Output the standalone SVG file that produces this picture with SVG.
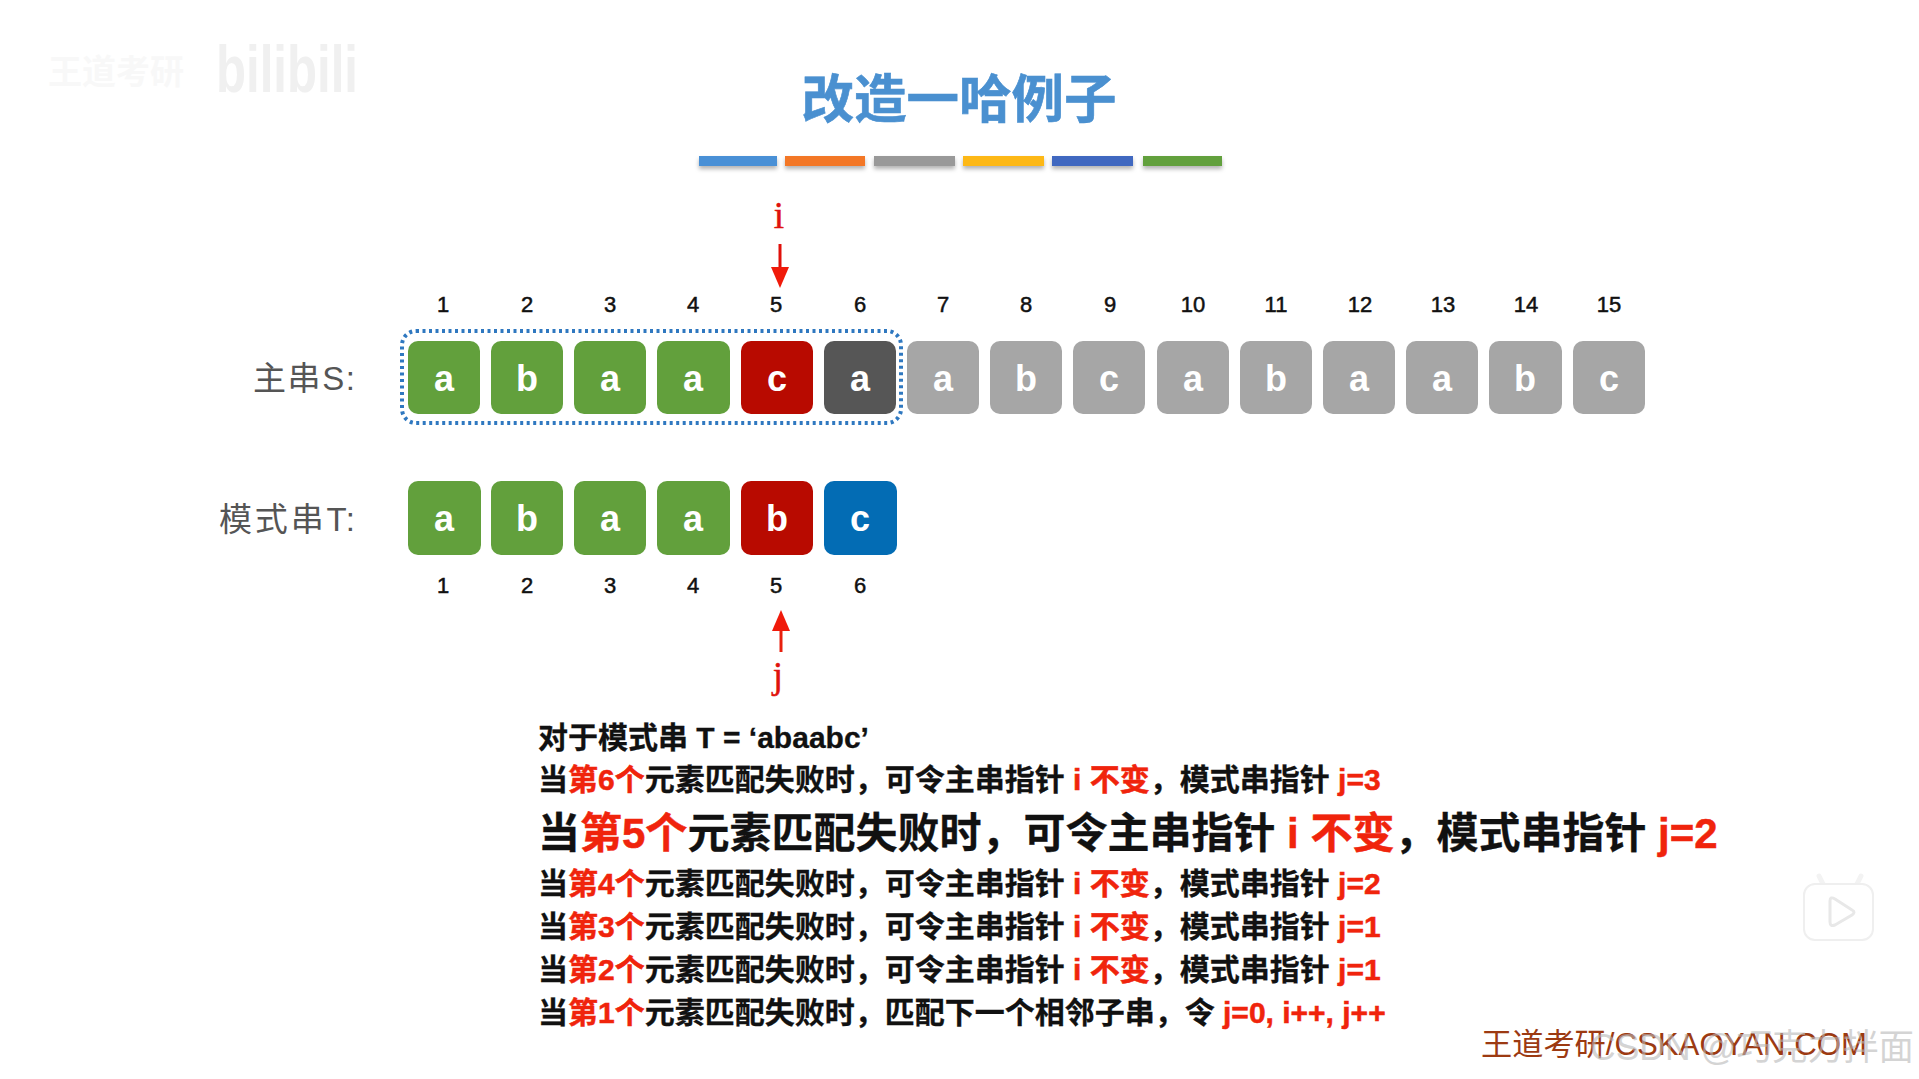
<svg xmlns="http://www.w3.org/2000/svg" width="1919" height="1079" viewBox="0 0 1919 1079">
<defs>
<filter id="sh" x="-5%" y="-50%" width="110%" height="250%"><feDropShadow dx="0" dy="3" stdDeviation="2" flood-color="#000" flood-opacity=".3"/></filter>
<marker id="ah" markerWidth="21" markerHeight="18" refX="0" refY="9" orient="auto" markerUnits="userSpaceOnUse" viewBox="0 0 21 18"><path d="M0 0L21 9L0 18Z" fill="#f01a0a"/></marker>
</defs>
<style>
text{font-family:"Liberation Sans","Noto Sans CJK SC",sans-serif}
.bl{font-size:36px;font-weight:700;fill:#fff;text-anchor:middle}
.n{font-size:22px;fill:#111;stroke:#111;stroke-width:.5;text-anchor:middle}
.lab{font-size:33px;fill:#555}
.v{font-family:"Liberation Serif","DejaVu Serif",serif;font-size:37px;fill:#e0120c;stroke:#e0120c;stroke-width:.5;text-anchor:middle}
.t{font-size:30px;font-weight:700;fill:#111;stroke:#111;stroke-width:.3}
.big{font-size:42px;font-weight:700;fill:#111;stroke:#111;stroke-width:.3}
.r{fill:#f0240c;stroke:#f0240c;stroke-width:.5}
.g{fill:#62a03c}.k{fill:#a6a6a6}.rd{fill:#b80a00}.dk{fill:#565656}.bu{fill:#036cb4}
</style>
<rect width="1919" height="1079" fill="#fff"/>
<g id="watermark-top"><text x="48" y="84" font-size="34" font-weight="700" fill="#f8f8f8">王道考研</text><text x="216" y="92" font-size="66" font-weight="700" fill="#f0f0f0" textLength="142" lengthAdjust="spacingAndGlyphs">bilibili</text></g>
<g id="title"><text x="959" y="118" text-anchor="middle" font-size="52.5" font-weight="700" fill="#4a90d0" stroke="#4a90d0" stroke-width=".6">改造一哈例子</text></g>
<g id="title-bars" filter="url(#sh)">
<rect x="699" y="156" width="78" height="10" fill="#4a90d6"/><rect x="785" y="156" width="80" height="10" fill="#f37726"/><rect x="874" y="156" width="81" height="10" fill="#999"/><rect x="963" y="156" width="81" height="10" fill="#fdb813"/><rect x="1052" y="156" width="81" height="10" fill="#3f68c0"/><rect x="1143" y="156" width="79" height="10" fill="#62a03c"/>
</g>
<g id="connectors">
<line x1="780" y1="244" x2="780" y2="267" stroke="#e0100a" stroke-width="3" marker-end="url(#ah)"/>
<line x1="781" y1="652" x2="781" y2="631" stroke="#e8200e" stroke-width="3" marker-end="url(#ah)"/>
<rect x="402" y="331" width="499" height="92" rx="14" fill="none" stroke="#2f78c0" stroke-width="4" stroke-dasharray="3 3.5"/>
</g>
<g id="label-i"><text class="v" x="779" y="228">i</text></g>
<g id="label-j"><text class="v" x="778" y="688">j</text></g>
<g id="label-S"><text class="lab" x="253" y="390" textLength="102">主串S:</text></g>
<g id="label-T"><text class="lab" x="219" y="531" textLength="136">模式串T:</text></g>
<g id="s-index">
<text class="n" x="443" y="312">1</text><text class="n" x="527" y="312">2</text><text class="n" x="610" y="312">3</text><text class="n" x="693" y="312">4</text><text class="n" x="776" y="312">5</text><text class="n" x="860" y="312">6</text><text class="n" x="943" y="312">7</text><text class="n" x="1026" y="312">8</text><text class="n" x="1110" y="312">9</text><text class="n" x="1193" y="312">10</text><text class="n" x="1276" y="312">11</text><text class="n" x="1360" y="312">12</text><text class="n" x="1443" y="312">13</text><text class="n" x="1526" y="312">14</text><text class="n" x="1609" y="312">15</text>
</g>
<g id="s1"><rect class="g" x="408" y="341" width="72" height="73" rx="10"/><text class="bl" x="444" y="391">a</text></g>
<g id="s2"><rect class="g" x="491" y="341" width="72" height="73" rx="10"/><text class="bl" x="527" y="391">b</text></g>
<g id="s3"><rect class="g" x="574" y="341" width="72" height="73" rx="10"/><text class="bl" x="610" y="391">a</text></g>
<g id="s4"><rect class="g" x="657" y="341" width="73" height="73" rx="10"/><text class="bl" x="693" y="391">a</text></g>
<g id="s5"><rect class="rd" x="741" y="341" width="72" height="73" rx="10"/><text class="bl" x="777" y="391">c</text></g>
<g id="s6"><rect class="dk" x="824" y="341" width="72" height="73" rx="10"/><text class="bl" x="860" y="391">a</text></g>
<g id="s7"><rect class="k" x="907" y="341" width="72" height="73" rx="10"/><text class="bl" x="943" y="391">a</text></g>
<g id="s8"><rect class="k" x="990" y="341" width="72" height="73" rx="10"/><text class="bl" x="1026" y="391">b</text></g>
<g id="s9"><rect class="k" x="1073" y="341" width="72" height="73" rx="10"/><text class="bl" x="1109" y="391">c</text></g>
<g id="s10"><rect class="k" x="1157" y="341" width="72" height="73" rx="10"/><text class="bl" x="1193" y="391">a</text></g>
<g id="s11"><rect class="k" x="1240" y="341" width="72" height="73" rx="10"/><text class="bl" x="1276" y="391">b</text></g>
<g id="s12"><rect class="k" x="1323" y="341" width="72" height="73" rx="10"/><text class="bl" x="1359" y="391">a</text></g>
<g id="s13"><rect class="k" x="1406" y="341" width="72" height="73" rx="10"/><text class="bl" x="1442" y="391">a</text></g>
<g id="s14"><rect class="k" x="1489" y="341" width="73" height="73" rx="10"/><text class="bl" x="1525" y="391">b</text></g>
<g id="s15"><rect class="k" x="1573" y="341" width="72" height="73" rx="10"/><text class="bl" x="1609" y="391">c</text></g>
<g id="t1"><rect class="g" x="408" y="481" width="73" height="74" rx="10"/><text class="bl" x="444" y="531">a</text></g>
<g id="t2"><rect class="g" x="491" y="481" width="72" height="74" rx="10"/><text class="bl" x="527" y="531">b</text></g>
<g id="t3"><rect class="g" x="574" y="481" width="72" height="74" rx="10"/><text class="bl" x="610" y="531">a</text></g>
<g id="t4"><rect class="g" x="657" y="481" width="73" height="74" rx="10"/><text class="bl" x="693" y="531">a</text></g>
<g id="t5"><rect class="rd" x="741" y="481" width="72" height="74" rx="10"/><text class="bl" x="777" y="531">b</text></g>
<g id="t6"><rect class="bu" x="824" y="481" width="73" height="74" rx="10"/><text class="bl" x="860" y="531">c</text></g>
<g id="t-index">
<text class="n" x="443" y="593">1</text><text class="n" x="527" y="593">2</text><text class="n" x="610" y="593">3</text><text class="n" x="693" y="593">4</text><text class="n" x="776" y="593">5</text><text class="n" x="860" y="593">6</text>
</g>
<g id="explanation">
<text class="t" x="538" y="748">对于模式串 T = ‘abaabc’</text>
<text class="t" x="538" y="790">当<tspan class="r">第6个</tspan>元素匹配失败时，可令主串指针 <tspan class="r">i 不变</tspan>，模式串指针 <tspan class="r">j=3</tspan></text>
<text class="big" x="538" y="848">当<tspan class="r">第5个</tspan>元素匹配失败时，可令主串指针 <tspan class="r">i 不变</tspan>，模式串指针 <tspan class="r">j=2</tspan></text>
<text class="t" x="538" y="894">当<tspan class="r">第4个</tspan>元素匹配失败时，可令主串指针 <tspan class="r">i 不变</tspan>，模式串指针 <tspan class="r">j=2</tspan></text>
<text class="t" x="538" y="937">当<tspan class="r">第3个</tspan>元素匹配失败时，可令主串指针 <tspan class="r">i 不变</tspan>，模式串指针 <tspan class="r">j=1</tspan></text>
<text class="t" x="538" y="980">当<tspan class="r">第2个</tspan>元素匹配失败时，可令主串指针 <tspan class="r">i 不变</tspan>，模式串指针 <tspan class="r">j=1</tspan></text>
<text class="t" x="538" y="1023">当<tspan class="r">第1个</tspan>元素匹配失败时，匹配下一个相邻子串，令 <tspan class="r">j=0, i++, j++</tspan></text>
</g>
<g id="footer"><text x="1481" y="1055" font-size="31" fill="#9c3a12" textLength="386" lengthAdjust="spacingAndGlyphs">王道考研/CSKAOYAN.COM</text></g>
<g id="watermark-csdn"><text x="1590" y="1060" font-size="36" fill="#b8b8b8" fill-opacity=".6" textLength="324" lengthAdjust="spacingAndGlyphs">CSDN @巧克力拌面</text></g>
<g id="play-icon"><path d="M1827 892l-8-16M1853 892l8-16" stroke="#f3f3f3" stroke-width="5" stroke-linecap="round"/><rect x="1804" y="884" width="69" height="56" rx="11" fill="#fff" stroke="#efefef" stroke-width="2"/><path d="M1830 901v21q0 5 5 3l17-10q4-3 0-5l-17-11q-5-3-5 2Z" fill="#fff" stroke="#e8e8e8" stroke-width="3"/></g>
</svg>
